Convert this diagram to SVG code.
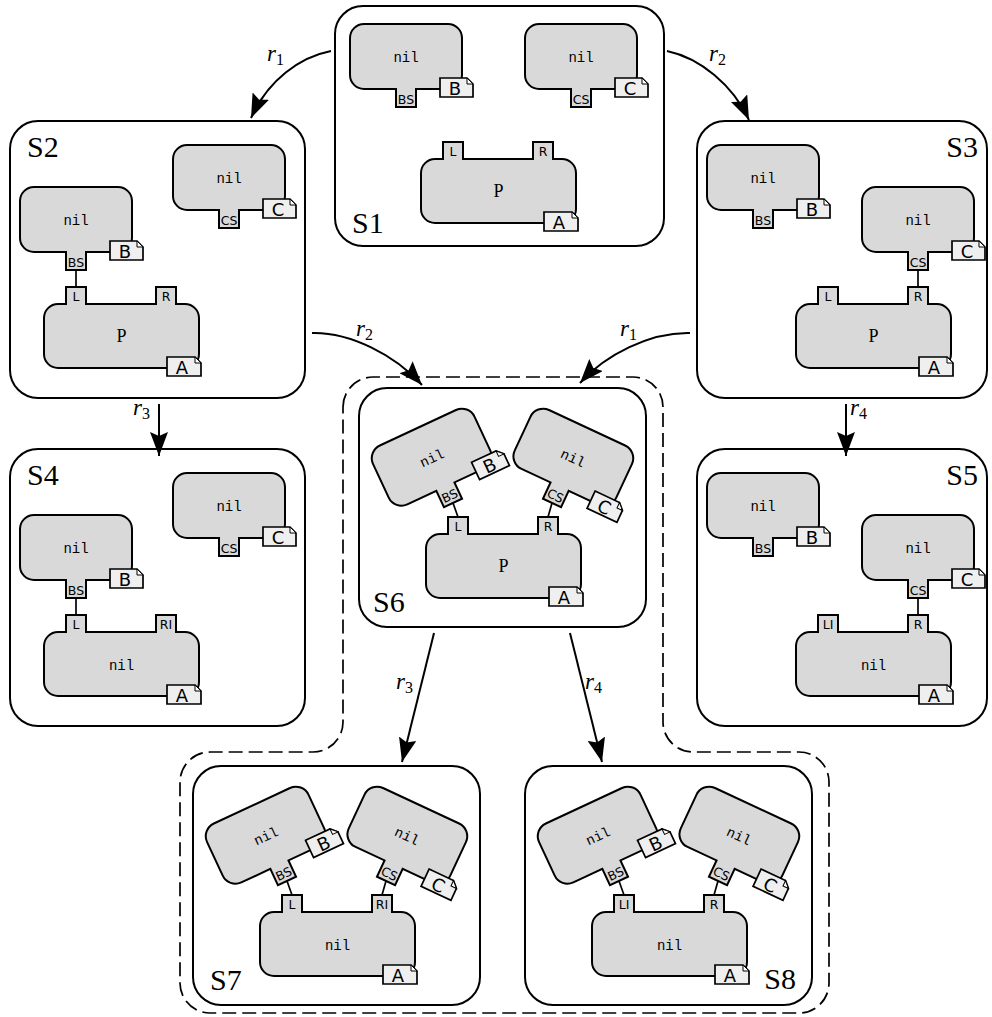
<svg xmlns="http://www.w3.org/2000/svg" width="992" height="1017" viewBox="0 0 992 1017">
<defs>
<style>
.state{fill:#fff;stroke:#000;stroke-width:2}
.body{fill:#d9d9d9;stroke:#000;stroke-width:2}
.tag{fill:#efefef;stroke:#000;stroke-width:1.7}
.fold{fill:#fff;stroke:#000;stroke-width:1}
.nil{font-family:"Liberation Mono",monospace;font-size:14px;text-anchor:middle}
.port{font-family:"DejaVu Sans",sans-serif;font-size:12.5px;text-anchor:middle}
.letter{font-family:"DejaVu Sans",sans-serif;font-size:18px;text-anchor:middle}
.pname{font-family:"Liberation Serif",serif;font-size:18px;text-anchor:middle}
.slabel{font-family:"Liberation Serif",serif;font-size:30px}
.conn{fill:none;stroke:#000;stroke-width:2}
.link{stroke:#000;stroke-width:1.7}
.rl{font-family:"Liberation Serif",serif;font-style:italic;font-size:23px}
.sub{font-style:normal;font-size:16px}
.dash{fill:none;stroke:#000;stroke-width:1.7;stroke-dasharray:14 6}
</style>
<marker id="ah" markerUnits="userSpaceOnUse" markerWidth="26" markerHeight="18" refX="24" refY="9" orient="auto" viewBox="0 0 26 18">
<path d="M0,0 L24,9 L0,18 L4,9 Z" fill="#000"/>
</marker>
<g id="blobShape">
<path class="body" d="M14,0 H98 A14,14 0 0 1 112,14 V51 A14,14 0 0 1 98,65 H66 V83 H46 V65 H14 A14,14 0 0 1 0,51 V14 A14,14 0 0 1 14,0 Z"/>
<path class="tag" d="M90,54 H117 L123,60 V73 H90 Z"/>
<path class="fold" d="M117,54 V60 H123 Z"/>
</g>
<g id="procShape">
<path class="body" d="M14,0 H22 V-17 H42 V0 H112 V-17 H132 V0 H141 A14,14 0 0 1 155,14 V50 A14,14 0 0 1 141,64 H14 A14,14 0 0 1 0,50 V14 A14,14 0 0 1 14,0 Z"/>
<path class="tag" d="M123,53 H151 L157,59 V72 H123 Z"/>
<path class="fold" d="M151,53 V59 H157 Z"/>
</g>
</defs>
<rect width="992" height="1017" fill="#fff"/>

<path class="dash" d="M343,407 A30,30 0 0 1 373,377 H633 A30,30 0 0 1 663,407 V722 A30,30 0 0 0 693,752 H799 A30,30 0 0 1 829,782 V983 A30,30 0 0 1 799,1013 H210 A30,30 0 0 1 180,983 V782 A30,30 0 0 1 210,752 H313 A30,30 0 0 0 343,722 Z"/>

<g id="S1">
<rect class="state" x="335" y="6" width="329" height="240" rx="28"/>
<g transform="translate(350,24)"><use href="#blobShape"/><text class="nil" x="56" y="38">nil</text><text class="port" x="56" y="79.5">BS</text><text class="letter" x="105" y="71">B</text></g>
<g transform="translate(525,24)"><use href="#blobShape"/><text class="nil" x="56" y="38">nil</text><text class="port" x="56" y="79.5">CS</text><text class="letter" x="105" y="71">C</text></g>
<g transform="translate(421,159)"><use href="#procShape"/><text class="pname" x="77.5" y="38">P</text><text class="port" x="32" y="-3.5">L</text><text class="port" x="122" y="-3.5">R</text><text class="letter" x="138" y="70">A</text></g>
<text class="slabel" x="352" y="233">S1</text>
</g>

<g id="S2">
<rect class="state" x="10" y="121" width="295" height="277" rx="28"/>
<line class="link" x1="76" y1="270" x2="76" y2="287"/>
<g transform="translate(173,145)"><use href="#blobShape"/><text class="nil" x="56" y="38">nil</text><text class="port" x="56" y="79.5">CS</text><text class="letter" x="105" y="71">C</text></g>
<g transform="translate(20,187)"><use href="#blobShape"/><text class="nil" x="56" y="38">nil</text><text class="port" x="56" y="79.5">BS</text><text class="letter" x="105" y="71">B</text></g>
<g transform="translate(44,304)"><use href="#procShape"/><text class="pname" x="77.5" y="38">P</text><text class="port" x="32" y="-3.5">L</text><text class="port" x="122" y="-3.5">R</text><text class="letter" x="138" y="70">A</text></g>
<text class="slabel" x="27" y="157">S2</text>
</g>

<g id="S3">
<rect class="state" x="697" y="121" width="290" height="277" rx="28"/>
<line class="link" x1="918" y1="270" x2="918" y2="287"/>
<g transform="translate(707,145)"><use href="#blobShape"/><text class="nil" x="56" y="38">nil</text><text class="port" x="56" y="79.5">BS</text><text class="letter" x="105" y="71">B</text></g>
<g transform="translate(862,187)"><use href="#blobShape"/><text class="nil" x="56" y="38">nil</text><text class="port" x="56" y="79.5">CS</text><text class="letter" x="105" y="71">C</text></g>
<g transform="translate(796,304)"><use href="#procShape"/><text class="pname" x="77.5" y="38">P</text><text class="port" x="32" y="-3.5">L</text><text class="port" x="122" y="-3.5">R</text><text class="letter" x="138" y="70">A</text></g>
<text class="slabel" x="978" y="157" text-anchor="end">S3</text>
</g>

<g id="S4">
<rect class="state" x="10" y="449" width="295" height="277" rx="28"/>
<line class="link" x1="76" y1="598" x2="76" y2="615"/>
<g transform="translate(173,473)"><use href="#blobShape"/><text class="nil" x="56" y="38">nil</text><text class="port" x="56" y="79.5">CS</text><text class="letter" x="105" y="71">C</text></g>
<g transform="translate(20,515)"><use href="#blobShape"/><text class="nil" x="56" y="38">nil</text><text class="port" x="56" y="79.5">BS</text><text class="letter" x="105" y="71">B</text></g>
<g transform="translate(44,632)"><use href="#procShape"/><text class="nil" x="77.5" y="38">nil</text><text class="port" x="32" y="-3.5">L</text><text class="port" x="122" y="-3.5">RI</text><text class="letter" x="138" y="70">A</text></g>
<text class="slabel" x="27" y="485">S4</text>
</g>

<g id="S5">
<rect class="state" x="697" y="449" width="290" height="277" rx="28"/>
<line class="link" x1="918" y1="598" x2="918" y2="615"/>
<g transform="translate(707,473)"><use href="#blobShape"/><text class="nil" x="56" y="38">nil</text><text class="port" x="56" y="79.5">BS</text><text class="letter" x="105" y="71">B</text></g>
<g transform="translate(862,515)"><use href="#blobShape"/><text class="nil" x="56" y="38">nil</text><text class="port" x="56" y="79.5">CS</text><text class="letter" x="105" y="71">C</text></g>
<g transform="translate(796,632)"><use href="#procShape"/><text class="nil" x="77.5" y="38">nil</text><text class="port" x="32" y="-3.5">LI</text><text class="port" x="122" y="-3.5">R</text><text class="letter" x="138" y="70">A</text></g>
<text class="slabel" x="978" y="485" text-anchor="end">S5</text>
</g>

<g id="S6">
<rect class="state" x="359" y="388" width="287" height="239" rx="28"/>
<line class="link" x1="453" y1="503" x2="458" y2="517"/>
<line class="link" x1="552" y1="503" x2="548" y2="517"/>
<g transform="translate(453,503) rotate(-25) translate(-56,-83)"><use href="#blobShape"/><text class="nil" x="56" y="38">nil</text><text class="port" x="56" y="79.5">BS</text><text class="letter" x="105" y="71">B</text></g>
<g transform="translate(552,503) rotate(25) translate(-56,-83)"><use href="#blobShape"/><text class="nil" x="56" y="38">nil</text><text class="port" x="56" y="79.5">CS</text><text class="letter" x="105" y="71">C</text></g>
<g transform="translate(426,534)"><use href="#procShape"/><text class="pname" x="77.5" y="38">P</text><text class="port" x="32" y="-3.5">L</text><text class="port" x="122" y="-3.5">R</text><text class="letter" x="138" y="70">A</text></g>
<text class="slabel" x="373" y="612">S6</text>
</g>

<g id="S7">
<rect class="state" x="193" y="766" width="287" height="239" rx="28"/>
<line class="link" x1="287" y1="881" x2="292" y2="895"/>
<line class="link" x1="386" y1="881" x2="382" y2="895"/>
<g transform="translate(287,881) rotate(-25) translate(-56,-83)"><use href="#blobShape"/><text class="nil" x="56" y="38">nil</text><text class="port" x="56" y="79.5">BS</text><text class="letter" x="105" y="71">B</text></g>
<g transform="translate(386,881) rotate(25) translate(-56,-83)"><use href="#blobShape"/><text class="nil" x="56" y="38">nil</text><text class="port" x="56" y="79.5">CS</text><text class="letter" x="105" y="71">C</text></g>
<g transform="translate(260,912)"><use href="#procShape"/><text class="nil" x="77.5" y="38">nil</text><text class="port" x="32" y="-3.5">L</text><text class="port" x="122" y="-3.5">RI</text><text class="letter" x="138" y="70">A</text></g>
<text class="slabel" x="210" y="990">S7</text>
</g>

<g id="S8">
<rect class="state" x="525" y="766" width="287" height="239" rx="28"/>
<line class="link" x1="619" y1="881" x2="624" y2="895"/>
<line class="link" x1="718" y1="881" x2="714" y2="895"/>
<g transform="translate(619,881) rotate(-25) translate(-56,-83)"><use href="#blobShape"/><text class="nil" x="56" y="38">nil</text><text class="port" x="56" y="79.5">BS</text><text class="letter" x="105" y="71">B</text></g>
<g transform="translate(718,881) rotate(25) translate(-56,-83)"><use href="#blobShape"/><text class="nil" x="56" y="38">nil</text><text class="port" x="56" y="79.5">CS</text><text class="letter" x="105" y="71">C</text></g>
<g transform="translate(592,912)"><use href="#procShape"/><text class="nil" x="77.5" y="38">nil</text><text class="port" x="32" y="-3.5">LI</text><text class="port" x="122" y="-3.5">R</text><text class="letter" x="138" y="70">A</text></g>
<text class="slabel" x="796" y="989" text-anchor="end">S8</text>
</g>

<g id="connectors">
<path class="conn" marker-end="url(#ah)" d="M331,51 C300,57 268,80 251,118"/>
<path class="conn" marker-end="url(#ah)" d="M667,51 C700,58 733,85 749,120"/>
<path class="conn" marker-end="url(#ah)" d="M312,333 C350,332 395,355 422,385"/>
<path class="conn" marker-end="url(#ah)" d="M690,333 C650,332 605,355 580,383"/>
<path class="conn" marker-end="url(#ah)" d="M159,404 V456"/>
<path class="conn" marker-end="url(#ah)" d="M846,404 V456"/>
<path class="conn" marker-end="url(#ah)" d="M434,633 L402,762"/>
<path class="conn" marker-end="url(#ah)" d="M570,633 L602,762"/>
<text class="rl" x="267" y="61">r<tspan class="sub" dy="4">1</tspan></text>
<text class="rl" x="709" y="61">r<tspan class="sub" dy="4">2</tspan></text>
<text class="rl" x="356" y="336">r<tspan class="sub" dy="4">2</tspan></text>
<text class="rl" x="620" y="336">r<tspan class="sub" dy="4">1</tspan></text>
<text class="rl" x="133" y="415">r<tspan class="sub" dy="4">3</tspan></text>
<text class="rl" x="850" y="415">r<tspan class="sub" dy="4">4</tspan></text>
<text class="rl" x="396" y="689">r<tspan class="sub" dy="4">3</tspan></text>
<text class="rl" x="585" y="689">r<tspan class="sub" dy="4">4</tspan></text>
</g>
</svg>
